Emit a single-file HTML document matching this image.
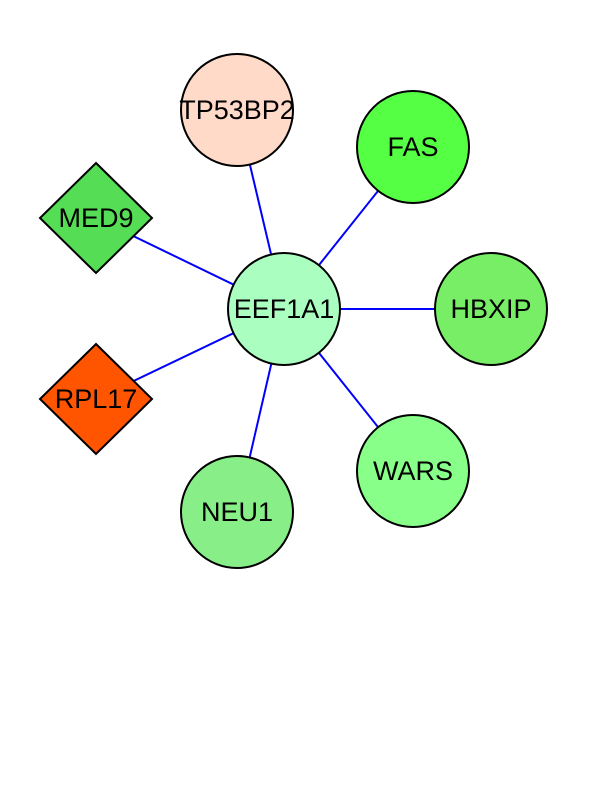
<!DOCTYPE html>
<html><head><meta charset="utf-8"><style>html,body{margin:0;padding:0;background:#fff}</style></head>
<body>
<svg width="612" height="792" viewBox="0 0 612 792" xmlns="http://www.w3.org/2000/svg">
<g stroke="#0000ff" stroke-width="2">
<line x1="284" y1="309" x2="237" y2="110"/>
<line x1="284" y1="309" x2="413" y2="147"/>
<line x1="284" y1="309" x2="491" y2="309"/>
<line x1="284" y1="309" x2="413" y2="471"/>
<line x1="284" y1="309" x2="237" y2="512"/>
<line x1="284" y1="309" x2="96" y2="218"/>
<line x1="284" y1="309" x2="96" y2="399"/>
</g>
<g stroke="#000" stroke-width="2">
<circle cx="237" cy="110" r="56" fill="#ffdac8"/>
<circle cx="413" cy="147" r="56" fill="#55ff44"/>
<circle cx="491" cy="309" r="56" fill="#77ee66"/>
<circle cx="413" cy="471" r="56" fill="#88ff88"/>
<circle cx="237" cy="512" r="56" fill="#88ee88"/>
<polygon points="96,163 152,218 96,273 40,218" fill="#55dd55"/>
<polygon points="96,344 152,399 96,454 40,399" fill="#ff5500"/>
<circle cx="284" cy="309" r="56" fill="#aaffc0"/>
</g>
<g font-family="Liberation Sans, sans-serif" font-size="27" text-anchor="middle" fill="#000">
<text x="237" y="119">TP53BP2</text>
<text x="413" y="156">FAS</text>
<text x="491" y="318">HBXIP</text>
<text x="413" y="480">WARS</text>
<text x="237" y="521">NEU1</text>
<text x="96" y="227">MED9</text>
<text x="96" y="408">RPL17</text>
<text x="284" y="318">EEF1A1</text>
</g>
</svg>
</body></html>
